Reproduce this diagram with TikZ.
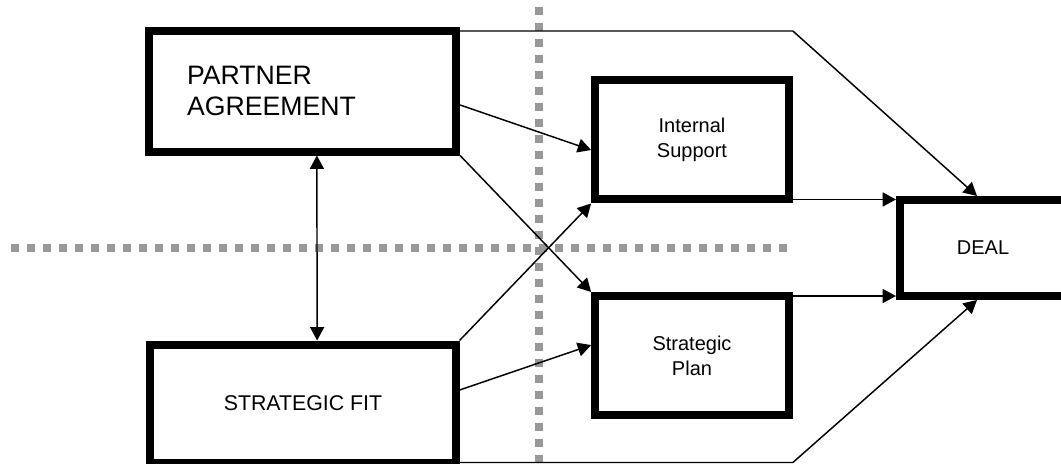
\documentclass[tikz,border=0pt]{standalone}
\usepackage{fontspec}
\setmainfont{Liberation Sans}
\usetikzlibrary{arrows.meta}
\definecolor{divgray}{RGB}{153,153,153}

\begin{document}
\begin{tikzpicture}[x=0.75pt,y=-0.75pt,>={Triangle[length=10pt,width=10.5pt]}]
\tikzstyle{box}=[draw,line width=6pt,align=center,inner sep=2pt,font=\fontsize{15}{18.75}\selectfont]
\tikzstyle{link}=[line width=1.1pt]
\tikzstyle{divider}=[draw=divgray,line width=6pt,dash pattern=on 6pt off 6pt]
\useasboundingbox (0,0) rectangle (1061,464);
\clip (0,0) rectangle (1061,464);

% quadrant dividers
\draw[divider] (11,248) -- (792,248);
\draw[divider] (539,7) -- (539,472);

\node[box,minimum width=230pt,minimum height=90.4pt,text width=173.6pt,align=left,font=\fontsize{20}{23}\selectfont] (pa) at (302.75,91.25) {PARTNER\\AGREEMENT};
\node[box,minimum width=228.8pt,minimum height=88.5pt,font=\fontsize{16}{19}\selectfont] (sf) at (303,403.5) {STRATEGIC FIT};
\node[box,minimum width=145.3pt,minimum height=89.6pt] (is) at (692,139.75) {Internal\\Support};
\node[box,minimum width=145.3pt,minimum height=89.6pt] (sp) at (692,355.75) {Strategic\\Plan};
\node[box,minimum width=124.5pt,minimum height=72pt] (deal) at (983,248) {DEAL};

\draw[link,<->] ([xshift=10.6pt]pa.south) -- ([xshift=10.6pt]sf.north);
\draw[link,->] ([yshift=-10.3pt]pa.east) -- ([yshift=-7.7pt]is.west);
\draw[link,->] (pa.south east) -- (sp.north west);
\draw[link,->] (sf.north east) -- (is.south west);
\draw[link,->] ([yshift=10.1pt]sf.east) -- ([yshift=8pt]sp.west);
\draw[link,->] ([yshift=3pt]is.south east) -- ([yshift=3pt]is.south east -| deal.west);
\draw[link,->] ([yshift=-3pt]sp.north east) -- ([yshift=-3pt]sp.north east -| deal.west);
\draw[link,->] ([yshift=-3pt]pa.north east) -- ([yshift=-3pt]is.east |- pa.north) -- ([xshift=-4.5pt]deal.north);
\draw[link,->] ([yshift=3pt]sf.south east) -- ([yshift=3pt]sp.east |- sf.south) -- ([xshift=-4.5pt]deal.south);
\end{tikzpicture}
\end{document}
